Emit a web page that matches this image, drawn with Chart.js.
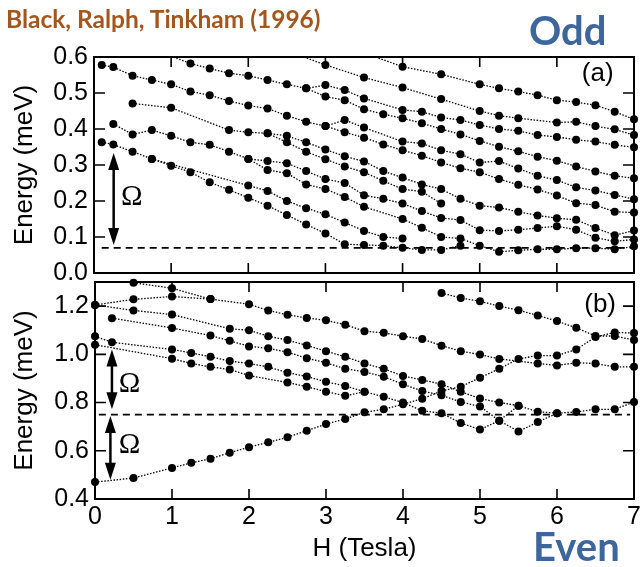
<!DOCTYPE html>
<html>
<head>
<meta charset="utf-8">
<script src="https://cdn.jsdelivr.net/npm/chart.js@4.4.1/dist/chart.umd.min.js"></script>
<style>
  body { margin: 0; background: #fff; }
  #wrap { position: relative; width: 640px; height: 567px; overflow: hidden; }
  canvas { position: absolute; left: 0; top: 0; }
  .lbl { position: absolute; font-family: Lato, "Open Sans", sans-serif; font-weight: bold; white-space: nowrap; line-height: 1; }
</style>
</head>
<body>
<div id="wrap">
  <canvas id="oddChart" width="640" height="567"></canvas>
  <canvas id="evenChart" width="640" height="567"></canvas>
  <div class="lbl" style="left:6px;top:7px;font-size:24.5px;color:#a3561d">Black, Ralph, Tinkham (1996)</div>
  <div class="lbl" style="left:529px;top:10px;font-size:40px;color:#3d679c">Odd</div>
  <div class="lbl" style="left:533px;top:526px;font-size:40px;color:#3d679c">Even</div>
</div>
<script>
// === Axis ticks ===
const hTicks = [0, 1, 2, 3, 4, 5, 6, 7];
const oddTicks = [0.0, 0.1, 0.2, 0.3, 0.4, 0.5, 0.6];
const evenTicks = [0.4, 0.6, 0.8, 1.0, 1.2];

// === (a) odd levels, [H (T), E (meV)] ===
const oddL1 = [[3.65,0.6],[4,0.573],[4.5,0.552],[5,0.524],[5.25,0.513],[5.5,0.504],[5.75,0.494],[6,0.48],[6.25,0.475],[6.5,0.466],[6.75,0.448],[7,0.427]];
const oddL2 = [[2.72,0.6],[3,0.578],[3.5,0.543],[4,0.515],[4.5,0.483],[5,0.45],[5.25,0.437],[5.5,0.43],[6,0.418],[6.25,0.42],[6.5,0.408],[6.75,0.399],[7,0.383]];
const oddL3 = [[2.75,0.513],[3,0.522],[3.25,0.508],[3.5,0.485],[4,0.453],[4.25,0.448],[4.5,0.432],[4.75,0.425],[5,0.411],[5.25,0.4],[5.5,0.395],[5.75,0.383],[6,0.378],[6.25,0.37],[6.5,0.365],[6.75,0.356],[7,0.349]];
const oddL4 = [[1.03,0.6],[1.25,0.582],[1.5,0.568],[1.75,0.555],[2,0.548],[2.25,0.536],[2.5,0.524],[2.75,0.513],[3,0.49],[3.25,0.48],[3.5,0.455],[3.75,0.441],[4,0.43],[4.25,0.416],[4.5,0.4],[4.75,0.385],[5,0.367],[5.25,0.351],[5.5,0.338],[5.75,0.323],[6,0.312],[6.25,0.296],[6.5,0.282],[6.75,0.27],[7,0.263]];
const oddL5 = [[3,0.408],[3.25,0.425],[3.5,0.404],[4,0.365],[4.25,0.36],[4.5,0.341],[4.75,0.33],[5,0.307],[5.25,0.311],[5.5,0.29],[5.75,0.27],[6,0.258],[6.25,0.238],[6.5,0.229],[6.75,0.217],[7,0.205]];
const oddL6 = [[0.1,0.578],[0.25,0.572],[0.5,0.548],[0.75,0.536],[1,0.524],[1.25,0.504],[1.5,0.494],[1.75,0.478],[2,0.465],[2.25,0.457],[2.5,0.437],[2.75,0.42],[3,0.408],[3.25,0.391],[3.5,0.376],[3.75,0.357],[4,0.341],[4.25,0.326],[4.5,0.307],[4.75,0.291],[5,0.28],[5.25,0.261],[5.5,0.245],[5.75,0.232],[6,0.215],[6.25,0.194],[6.5,0.189],[6.75,0.17],[7,0.168]];
const oddL7 = [[0.5,0.471],[1,0.459],[1.75,0.397],[2,0.391],[2.25,0.388],[2.5,0.381],[2.75,0.363],[3,0.343],[3.25,0.324],[3.5,0.31],[3.75,0.283],[4,0.265],[4.25,0.246],[4.5,0.233],[4.75,0.206],[5,0.187],[5.25,0.182],[5.5,0.17],[5.75,0.16],[6,0.152],[6.25,0.148],[6.5,0.125],[6.75,0.105],[7,0.118]];
const oddL7b = [[2.25,0.388],[2.5,0.363],[2.75,0.337],[3,0.316],[3.25,0.296],[3.5,0.28],[3.75,0.256],[4,0.233],[4.25,0.226],[4.5,0.193]];
const oddL8 = [[0.25,0.414],[0.5,0.385],[0.75,0.397],[1,0.381],[1.25,0.363],[1.5,0.356],[1.75,0.337],[2,0.317],[2.25,0.311],[2.5,0.305],[2.75,0.283],[3,0.261],[3.25,0.25],[3.5,0.216],[3.75,0.206],[4,0.193],[4.25,0.172],[4.5,0.153],[4.75,0.147],[5,0.119],[5.25,0.117],[5.5,0.12],[5.75,0.125],[6,0.13],[6.25,0.12],[6.5,0.098],[6.75,0.088],[7,0.093]];
const oddL9 = [[2,0.317],[2.25,0.286],[2.5,0.277],[2.75,0.246],[3,0.233],[3.25,0.211],[3.5,0.184],[4,0.15],[4.25,0.126],[4.5,0.1],[4.75,0.096],[5,0.076],[5.25,0.059],[5.5,0.063],[5.75,0.066],[6,0.066],[6.25,0.069],[6.5,0.069],[6.75,0.066],[7,0.074]];
const oddL10 = [[0.1,0.363],[0.25,0.357],[0.5,0.337],[0.75,0.317],[1,0.298],[1.25,0.28],[1.5,0.252],[1.75,0.231],[2,0.209],[2.25,0.187],[2.5,0.161],[2.75,0.135],[3,0.11],[3.25,0.08],[3.5,0.078],[3.75,0.076],[4,0.07],[4.25,0.064],[4.5,0.064],[4.75,0.076]];
const oddL11 = [[0.75,0.317],[2,0.243],[2.25,0.228],[2.5,0.2],[2.75,0.18],[3,0.163],[3.25,0.14],[3.5,0.117],[3.75,0.1],[4,0.096]];
const oddDash = [[0.1,0.07],[7,0.07]];

// === (b) even levels ===
const evenTop = [[0.5,1.297],[1,1.274],[1.5,1.229],[2,1.208],[2.25,1.182],[2.5,1.164],[2.75,1.151],[3,1.141],[3.25,1.123],[3.5,1.096],[3.75,1.089],[4,1.075],[4.25,1.064],[4.5,1.036],[4.75,1.013],[5,0.999],[5.25,0.981],[5.75,0.962],[6,0.954],[6.25,0.965],[6.5,0.962],[6.75,0.948],[7,0.948]];
const evenUp = [[0,1.205],[0.5,1.228],[1,1.24],[1.5,1.229]];
const evenHigh = [[4.5,1.254],[4.75,1.234],[5,1.22],[5.25,1.2],[5.5,1.183],[5.75,1.161],[6,1.138],[6.25,1.11],[6.5,1.076],[6.75,1.076],[7,1.059]];
const even3 = [[0,1.205],[0.5,1.182],[1,1.165],[1.75,1.106],[2,1.1],[2.25,1.075],[2.5,1.059],[2.75,1.037],[3,1.013],[3.25,0.99],[3.5,0.962],[3.75,0.94],[4,0.91],[4.25,0.894],[4.5,0.876],[4.75,0.845],[5,0.817],[5.25,0.8],[5.5,0.787],[5.75,0.762],[6,0.756],[6.25,0.761],[6.5,0.772],[6.75,0.772],[7,0.802]];
const even4 = [[0.22,1.15],[1,1.109],[1.5,1.078],[1.75,1.056],[2,1.033],[2.25,1.025],[2.5,1.009],[2.75,0.984],[3,0.965],[3.25,0.94],[3.5,0.927],[3.75,0.907],[4,0.876],[4.25,0.848],[4.5,0.83],[4.75,0.802],[5,0.784],[5.25,0.725],[5.5,0.68],[5.75,0.719],[6,0.756]];
const even5 = [[0,1.075],[0.22,1.05],[1,1.02],[1.25,1.006],[1.5,0.99],[1.75,0.972],[2,0.962],[2.25,0.948],[2.5,0.924],[2.75,0.908],[3,0.886],[3.25,0.869],[3.5,0.845],[3.75,0.824],[4,0.8],[4.25,0.766],[4.5,0.756],[4.75,0.715],[5,0.688],[5.25,0.725],[5.5,0.787]];
const even6 = [[0,1.04],[1,0.982],[1.25,0.962],[1.5,0.948],[1.75,0.937],[2,0.912],[2.5,0.883],[2.75,0.866],[3,0.845],[3.25,0.828],[3.5,0.845]];
const evenLow = [[0,0.47],[0.5,0.487],[1,0.529],[1.25,0.55],[1.5,0.567],[1.75,0.592],[2,0.615],[2.25,0.635],[2.5,0.656],[2.75,0.683],[3,0.711],[3.25,0.732],[3.5,0.76],[3.75,0.772],[4,0.793],[4.25,0.816],[4.5,0.848],[4.75,0.866],[5,0.903],[5.25,0.94],[5.5,0.981],[5.75,0.995],[6,0.995],[6.25,1.02],[6.5,1.072],[6.75,1.091],[7,1.088]];
const evenDash = [[0.05,0.75],[6.95,0.75]];

// === annotations: Omega arrows [H, E from, E to], labels [H, E] ===
const oddArrows = [[0.255, 0.078, 0.333]];
const evenArrows = [[0.22, 0.772, 1.02], [0.2, 0.48, 0.744]];
const oddOmega = [[0.49, 0.21]];
const evenOmega = [[0.45, 0.877], [0.45, 0.623]];

const tickFont = { family: "'Liberation Sans', Arial, sans-serif", size: 25 };
const titleFont = { family: "'Liberation Sans', Arial, sans-serif", size: 26 };

// frame, inward ticks, arrows and labels
const decor = {
  id: "decor",
  beforeDatasetsDraw(chart, args, o) {
    const { ctx, chartArea: a, scales: { x, y } } = chart;
    ctx.save();
    ctx.strokeStyle = "#000";
    ctx.lineWidth = 2;
    ctx.strokeRect(a.left, a.top, a.right - a.left, a.bottom - a.top);
    ctx.lineWidth = 1.6;
    ctx.beginPath();
    hTicks.forEach(v => {
      const px = x.getPixelForValue(v);
      if (px <= a.left + 1 || px >= a.right - 1) return;
      ctx.moveTo(px, a.top); ctx.lineTo(px, a.top + 10);
      ctx.moveTo(px, a.bottom); ctx.lineTo(px, a.bottom - 10);
    });
    o.yTicks.forEach(v => {
      const py = y.getPixelForValue(v);
      if (py <= a.top + 1 || py >= a.bottom - 1) return;
      ctx.moveTo(a.left, py); ctx.lineTo(a.left + 11, py);
      ctx.moveTo(a.right, py); ctx.lineTo(a.right - 11, py);
    });
    ctx.stroke();
    ctx.restore();
  },
  afterDatasetsDraw(chart, args, o) {
    const { ctx, scales: { x, y } } = chart;
    ctx.save();
    ctx.fillStyle = "#000";
    ctx.strokeStyle = "#000";
    o.arrows.forEach(([h, e1, e2]) => {
      const px = x.getPixelForValue(h);
      const top = y.getPixelForValue(Math.max(e1, e2));
      const bot = y.getPixelForValue(Math.min(e1, e2));
      ctx.lineWidth = 2.5;
      ctx.beginPath();
      ctx.moveTo(px, top + 10); ctx.lineTo(px, bot - 10);
      ctx.stroke();
      [[top, 1], [bot, -1]].forEach(([tip, d]) => {
        ctx.beginPath();
        ctx.moveTo(px, tip);
        ctx.lineTo(px - 5.5, tip + d * 17);
        ctx.lineTo(px + 5.5, tip + d * 17);
        ctx.closePath();
        ctx.fill();
      });
    });
    ctx.textAlign = "center";
    ctx.textBaseline = "middle";
    ctx.font = "29px 'Liberation Serif', serif";
    o.omegas.forEach(([h, e]) => ctx.fillText("Ω", x.getPixelForValue(h), y.getPixelForValue(e)));
    ctx.font = "26px 'Liberation Sans', Arial, sans-serif";
    ctx.fillText(o.tag[0], x.getPixelForValue(o.tag[1]), y.getPixelForValue(o.tag[2]));
    ctx.restore();
  }
};

function levelSet(series, dash) {
  const sets = series.map(s => ({
    data: s.map(p => ({ x: p[0], y: p[1] })),
    borderColor: "#000",
    borderWidth: 1.3,
    borderDash: [1.5, 1.6],
    pointRadius: c => (c.raw && c.raw.y >= c.chart.scales.y.max ? 0 : 4),
    pointBackgroundColor: "#000",
    pointBorderWidth: 0,
    tension: 0,
    clip: 6
  }));
  sets.push({
    data: dash.map(p => ({ x: p[0], y: p[1] })),
    borderColor: "#000",
    borderWidth: 1.8,
    borderDash: [7, 5],
    pointRadius: 0,
    clip: 0
  });
  return sets;
}

function makePanel(id, cfg) {
  return new Chart(document.getElementById(id), {
    type: "line",
    data: { datasets: levelSet(cfg.series, cfg.dash) },
    options: {
      responsive: false,
      animation: false,
      events: [],
      layout: { padding: { top: cfg.top, bottom: cfg.bottom, left: 0, right: 6 } },
      scales: {
        x: {
          type: "linear", min: 0, max: 7,
          display: cfg.showX,
          afterBuildTicks: s => { s.ticks = hTicks.map(v => ({ value: v })); },
          afterFit: s => {
            if (!cfg.showX) return;
            s.height = 68; s.paddingLeft = 0; s.paddingRight = 0;
          },
          grid: { display: false, drawTicks: false },
          border: { display: false },
          ticks: { color: "#000", font: tickFont, padding: 3, maxRotation: 0, autoSkip: false },
          title: { display: true, text: "H (Tesla)", color: "#000", font: titleFont, padding: { top: 0, bottom: 3 } }
        },
        y: {
          type: "linear", min: cfg.yMin, max: cfg.yMax,
          afterBuildTicks: s => { s.ticks = cfg.yTicks.map(v => ({ value: v })); },
          afterFit: s => { s.width = cfg.left; },
          grid: { display: false, drawTicks: false },
          border: { display: false },
          ticks: { color: "#000", font: tickFont, padding: 6, autoSkip: false, callback: v => v.toFixed(1) },
          title: { display: true, text: "Energy (meV)", color: "#000", font: titleFont, padding: { top: 9, bottom: 0 } }
        }
      },
      plugins: {
        legend: { display: false },
        tooltip: { enabled: false },
        decor: { yTicks: cfg.yTicks, arrows: cfg.arrows, omegas: cfg.omegas, tag: cfg.tag }
      }
    },
    plugins: [decor]
  });
}

makePanel("oddChart", {
  series: [oddL1, oddL2, oddL3, oddL4, oddL5, oddL6, oddL7, oddL7b, oddL8, oddL9, oddL10, oddL11],
  dash: oddDash, yTicks: oddTicks, yMin: 0, yMax: 0.6,
  top: 57, bottom: 294, left: 94, showX: false,
  arrows: oddArrows, omegas: oddOmega, tag: ["(a)", 6.53, 0.554]
});

makePanel("evenChart", {
  series: [evenTop, evenUp, evenHigh, even3, even4, even5, even6, evenLow],
  dash: evenDash, yTicks: evenTicks, yMin: 0.4, yMax: 1.3,
  top: 282, bottom: 0, left: 95, showX: true,
  arrows: evenArrows, omegas: evenOmega, tag: ["(b)", 6.56, 1.206]
});
</script>
</body>
</html>
